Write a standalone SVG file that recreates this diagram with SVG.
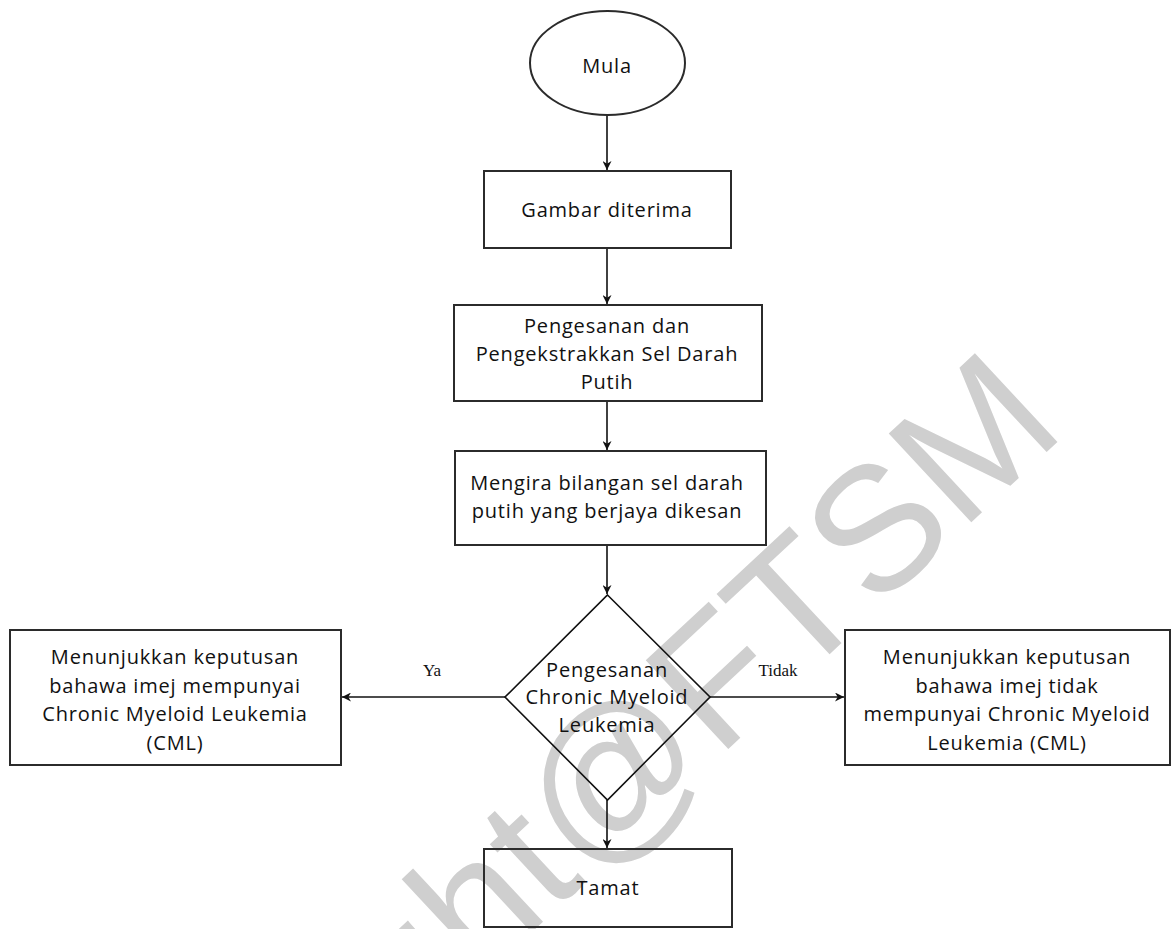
<svg xmlns="http://www.w3.org/2000/svg" width="1171" height="929" viewBox="0 0 1171 929">
<defs>
<style>
.wm{font-family:"Liberation Sans",Arial,sans-serif;font-size:176px;fill:#cfcfcf;text-anchor:end}
.box{fill:none;stroke:#2b2b2b;stroke-width:2}
.t{font-family:"Open Sans","Noto Sans",sans-serif;font-size:20px;font-weight:500;letter-spacing:0.8px;fill:#111;text-anchor:middle}
.lbl{font-family:"Liberation Serif","Times New Roman",serif;font-size:17px;fill:#111;text-anchor:middle}
.edge{fill:none;stroke:#111;stroke-width:1.6}
</style>
<marker id="arr" viewBox="0 0 10 10" refX="10" refY="5" markerWidth="9" markerHeight="9" markerUnits="userSpaceOnUse" orient="auto">
<path d="M0,0 L10,5 L0,10 L3,5 Z" fill="#111"/>
</marker>
</defs>
<rect width="1171" height="929" fill="#fff"/>
<text class="wm" transform="translate(1068,432) rotate(-43)" x="0" y="0">Copyright@FTSM</text>
<g id="connectors">
<line class="edge" x1="607" y1="115" x2="607" y2="170" marker-end="url(#arr)"/>
<line class="edge" x1="607" y1="248" x2="607" y2="304" marker-end="url(#arr)"/>
<line class="edge" x1="607" y1="401" x2="607" y2="450" marker-end="url(#arr)"/>
<line class="edge" x1="607" y1="545" x2="607" y2="594" marker-end="url(#arr)"/>
<line class="edge" x1="505" y1="697" x2="342" y2="697" marker-end="url(#arr)"/>
<line class="edge" x1="710" y1="697" x2="844" y2="697" marker-end="url(#arr)"/>
<line class="edge" x1="607" y1="800" x2="607" y2="848" marker-end="url(#arr)"/>
<text class="lbl" x="432" y="676">Ya</text>
<text class="lbl" x="778" y="676">Tidak</text>
</g>
<g id="mula">
<ellipse class="box" cx="607.5" cy="63" rx="77.5" ry="52" stroke-width="1.6"/>
<text class="t" x="607" y="73">Mula</text>
</g>
<g id="gambar">
<rect class="box" x="484" y="171" width="247" height="77"/>
<text class="t" x="607" y="217">Gambar diterima</text>
</g>
<g id="pengesanan">
<rect class="box" x="454" y="305" width="308" height="96"/>
<text class="t" x="607" y="333">Pengesanan dan</text>
<text class="t" x="607" y="361">Pengekstrakkan Sel Darah</text>
<text class="t" x="607" y="389">Putih</text>
</g>
<g id="mengira">
<rect class="box" x="455" y="451" width="311" height="94"/>
<text class="t" x="607" y="490">Mengira bilangan sel darah</text>
<text class="t" x="607" y="518">putih yang berjaya dikesan</text>
</g>
<g id="keputusan">
<polygon points="607.5,595 710,697 607.5,800 505,697" fill="none" stroke="#111" stroke-width="1.6"/>
<text class="t" x="607" y="677">Pengesanan</text>
<text class="t" x="607" y="704">Chronic Myeloid</text>
<text class="t" x="607" y="732">Leukemia</text>
</g>
<g id="ya">
<rect class="box" x="10" y="630" width="331" height="135"/>
<text class="t" x="175" y="664">Menunjukkan keputusan</text>
<text class="t" x="175" y="693">bahawa imej mempunyai</text>
<text class="t" x="175" y="721">Chronic Myeloid Leukemia</text>
<text class="t" x="175" y="750">(CML)</text>
</g>
<g id="tidak">
<rect class="box" x="845" y="630" width="325" height="135"/>
<text class="t" x="1007" y="664">Menunjukkan keputusan</text>
<text class="t" x="1007" y="693">bahawa imej tidak</text>
<text class="t" x="1007" y="721">mempunyai Chronic Myeloid</text>
<text class="t" x="1007" y="750">Leukemia (CML)</text>
</g>
<g id="tamat">
<rect class="box" x="484" y="849" width="248" height="78"/>
<text class="t" x="608" y="895">Tamat</text>
</g>
</svg>
